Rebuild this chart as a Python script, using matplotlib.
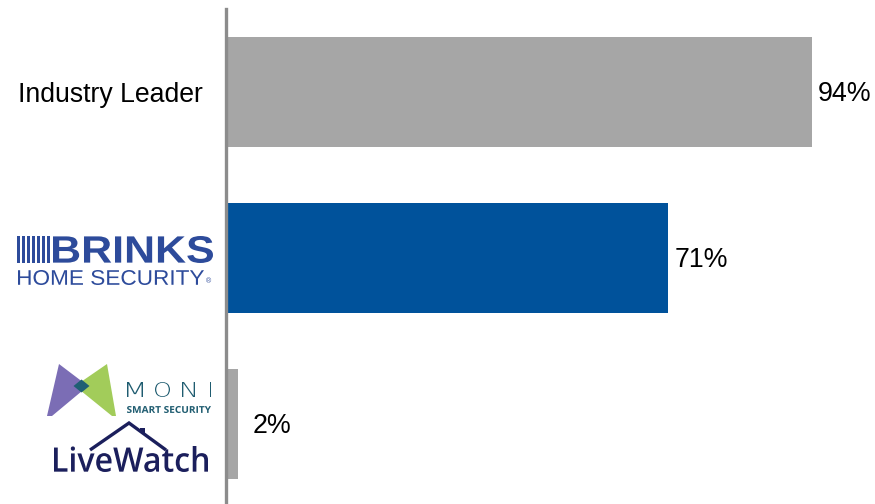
import matplotlib
matplotlib.use("Agg")
import matplotlib.pyplot as plt
from matplotlib.textpath import TextPath
from matplotlib.font_manager import FontProperties
from matplotlib.patches import PathPatch, Polygon, Rectangle
from matplotlib.transforms import Affine2D

plt.rcParams['font.family'] = ['Liberation Sans', 'DejaVu Sans']

categories = ["Industry Leader", "Brinks Home Security", "MONI / LiveWatch"]
values = [94, 71, 2]
value_labels = ["94%", "71%", "2%"]
bar_colors = ["#A6A6A6", "#00529B", "#A6A6A6"]

W, H = 875, 504
fig = plt.figure(figsize=(W / 100, H / 100), dpi=100)

# main axes (pixel-based placement)
ax_left, ax_right = 226, 849
ax_top, ax_bot = 9, 507
ax = fig.add_axes([ax_left / W, 1 - ax_bot / H, (ax_right - ax_left) / W, (ax_bot - ax_top) / H])
ypos = list(range(len(categories)))
ax.barh(ypos, values, height=0.663, color=bar_colors, zorder=2)
ax.set_xlim(0, 100)
ax.set_ylim(len(categories) - 0.5, -0.5)
for s in ["top", "right", "bottom"]:
    ax.spines[s].set_visible(False)
ax.spines["left"].set_color("#8C8C8C")
ax.spines["left"].set_linewidth(2.4)
ax.spines["left"].set_zorder(3)
ax.set_xticks([])
ax.set_yticks(ypos)
ax.set_yticklabels([c if c == "Industry Leader" else "" for c in categories], fontsize=19.2, color="black")
ax.tick_params(axis="y", length=0, pad=17)
for lbl in ax.get_yticklabels():
    lbl.set_y(lbl.get_position()[1])
for y, v, lab in zip(ypos, values, value_labels):
    ax.annotate(lab, (v, y), xytext=(6 if v > 10 else 14, -2), textcoords="offset pixels",
                va="center", ha="left", fontsize=19.3, color="black")

# overlay for logos (pixel coordinates, y downwards)
ov = fig.add_axes([0, 0, 1, 1], zorder=5)
ov.set_xlim(0, W)
ov.set_ylim(H, 0)
ov.axis("off")
ov.patch.set_alpha(0)


def text_box(s, x0, y0, x1, y1, color, weight="normal", family="Liberation Sans"):
    fp = FontProperties(family=family, weight=weight)
    tp = TextPath((0, 0), s, size=10, prop=fp)
    ext = tp.get_extents()
    sx = (x1 - x0) / ext.width
    sy = (y1 - y0) / ext.height
    tr = Affine2D().translate(-ext.x0, -ext.y1).scale(sx, -sy).translate(x0, y0)
    path = tr.transform_path(tp)
    ov.add_patch(PathPatch(path, facecolor=color, edgecolor="none", lw=0))


# BRINKS logo
brinks_blue = "#2D4B9B"
for i in range(7):
    ov.add_patch(Rectangle((17 + i * 5.0, 236), 2.6, 27, color=brinks_blue, lw=0))
text_box("BRINKS", 53, 236, 213, 263, brinks_blue, weight="bold")
text_box("HOME SECURITY", 18, 270, 204, 285, brinks_blue)
ov.text(209, 282, "®", fontsize=5, color=brinks_blue, ha="center", va="center")

# MONI logo
ov.add_patch(Polygon([(59, 364), (88, 386), (52, 416), (47, 416)], closed=True, color="#7B6DB5", lw=0))
ov.add_patch(Polygon([(107, 364), (116, 416), (112, 416), (75, 386)], closed=True, color="#A2CC5A", lw=0))
ov.add_patch(Polygon([(81.5, 379.5), (89.5, 386), (81.5, 392.5), (73.5, 386)], closed=True, color="#1E5F73", lw=0))
moni_teal = "#1F5C70"
text_box("M", 127, 382, 143, 397, moni_teal, weight="light", family="DejaVu Sans")
text_box("O", 155, 382, 170, 397, moni_teal, weight="light", family="DejaVu Sans")
text_box("N", 182, 382, 195, 397, moni_teal, weight="light", family="DejaVu Sans")
ov.add_patch(Rectangle((209.5, 382), 1.4, 15, color=moni_teal, lw=0))
text_box("SMART SECURITY", 127, 406, 211, 413, moni_teal, weight="bold", family="Open Sans")

# LiveWatch logo
lw_navy = "#1B1F5C"
ov.plot([90, 129, 166], [450, 423, 450], color=lw_navy, lw=2.4, solid_capstyle="butt", solid_joinstyle="miter")
ov.add_patch(Polygon([(140, 430), (140, 427.5), (145, 427.5), (145, 434)], closed=True, color=lw_navy, lw=0))
text_box("LiveWatch", 54, 446, 208, 472, lw_navy, weight="semibold", family="Open Sans")

fig.savefig("out.png", dpi=100)
